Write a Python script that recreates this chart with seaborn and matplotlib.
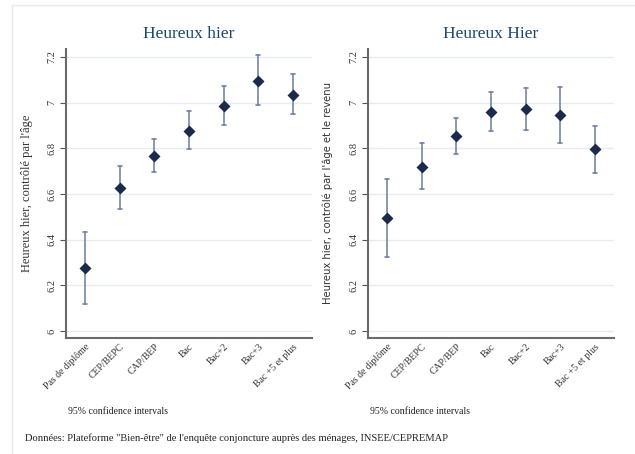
import pandas as pd
import numpy as np
import matplotlib
matplotlib.use("Agg")
import matplotlib.pyplot as plt
from matplotlib.patches import Rectangle
import seaborn as sns

# Data
categories = ["Pas de diplôme", "CEP/BEPC", "CAP/BEP", "Bac", "Bac+2", "Bac+3", "Bac +5 et plus"]

age_est = [6.277, 6.628, 6.765, 6.877, 6.986, 7.095, 7.035]
age_lo = [6.120, 6.533, 6.695, 6.797, 6.901, 6.988, 6.949]
age_hi = [6.435, 6.723, 6.841, 6.963, 7.075, 7.207, 7.126]

rev_est = [6.494, 6.719, 6.854, 6.960, 6.973, 6.947, 6.796]
rev_lo = [6.324, 6.621, 6.775, 6.875, 6.879, 6.825, 6.694]
rev_hi = [6.666, 6.822, 6.931, 7.046, 7.066, 7.068, 6.899]

yticks = [6, 6.2, 6.4, 6.6, 6.8, 7, 7.2]
ytick_labels = ["6", "6.2", "6.4", "6.6", "6.8", "7", "7.2"]

navy = "#1c2b4c"
bar_col = "#7786a6"
title_col = "#1a476f"

sns.set_style("white")
plt.rcParams["font.family"] = ["Liberation Serif", "DejaVu Serif"]


def long_df(lo, est, hi):
    # three rows per category: median = estimate, min/max = CI bounds
    rows = []
    for c, a, b, d in zip(categories, lo, est, hi):
        rows += [(c, a), (c, b), (c, d)]
    return pd.DataFrame(rows, columns=["diplome", "val"])


fig = plt.figure(figsize=(6.35, 4.54), dpi=100)
fig.patches.append(Rectangle((12 / 635, -0.1), 1.2, 1 - 5 / 454 + 0.1, transform=fig.transFigure,
                             fill=False, edgecolor="#e4e8f0", linewidth=1))

panels = [
    (0.1039, age_lo, age_est, age_hi, "Heureux hier", "Heureux hier, contrôlé par l'âge",
     ["Liberation Serif"], 9, -0.134),
    (0.5795, rev_lo, rev_est, rev_hi, "Heureux Hier", "Heureux hier, contrôlé par l'âge et le revenu",
     ["DejaVu Sans"], 7.2, -0.142),
]

for left, lo, est, hi, title, ylab, yfam, ysize, ylx in panels:
    ax = fig.add_axes([left, 0.2555, 0.3874, 0.6366])
    df = long_df(lo, est, hi)
    sns.pointplot(data=df, x="diplome", y="val", order=categories, estimator="median",
                  errorbar=lambda v: (v.min(), v.max()), linestyle="none", marker="D",
                  markersize=3.6, color=navy, capsize=0.12,
                  err_kws={"color": bar_col, "linewidth": 1.2, "zorder": 1}, ax=ax)
    for coll in ax.collections:
        coll.set_zorder(3)
    for ln in ax.lines:
        if ln.get_marker() == "D":
            ln.set_zorder(3)
    ax.set_xlim(-0.55, 6.55)
    ax.set_ylim(5.97, 7.235)
    ax.set_yticks(yticks)
    ax.set_yticklabels(ytick_labels, rotation=90, va="center", fontsize=7.5, color="#333333")
    ax.tick_params(axis="y", length=4, width=0.8, color="#555555", pad=3, left=True)
    ax.tick_params(axis="x", length=0, pad=3)
    ax.set_xticks(range(len(categories)))
    ax.set_xticklabels(categories, rotation=45, ha="right", rotation_mode="anchor",
                       fontsize=7, color="#333333")
    ax.grid(axis="y", color="#e8ebf2", linewidth=1)
    ax.set_axisbelow(True)
    for s in ["top", "right"]:
        ax.spines[s].set_visible(False)
    for s in ["left", "bottom"]:
        ax.spines[s].set_color("#6a6a6a")
        ax.spines[s].set_linewidth(1.5)
    ax.set_xlabel("")
    ax.set_ylabel(ylab, family=yfam, fontsize=ysize, color="#333333")
    ax.yaxis.set_label_coords(ylx, 0.5)
    ax.set_title(title, fontsize=12.5, color=title_col, pad=8)
    ax.text(0.01, -0.255, "95% confidence intervals", transform=ax.transAxes,
            fontsize=7, color="#222222", va="center")

fig.text(25 / 635, 1 - 438 / 454, 'Données: Plateforme "Bien-être" de l\'enquête conjoncture auprès des ménages, INSEE/CEPREMAP',
         fontsize=7.6, color="#222222", va="center")

fig.savefig("out.png", dpi=100)
